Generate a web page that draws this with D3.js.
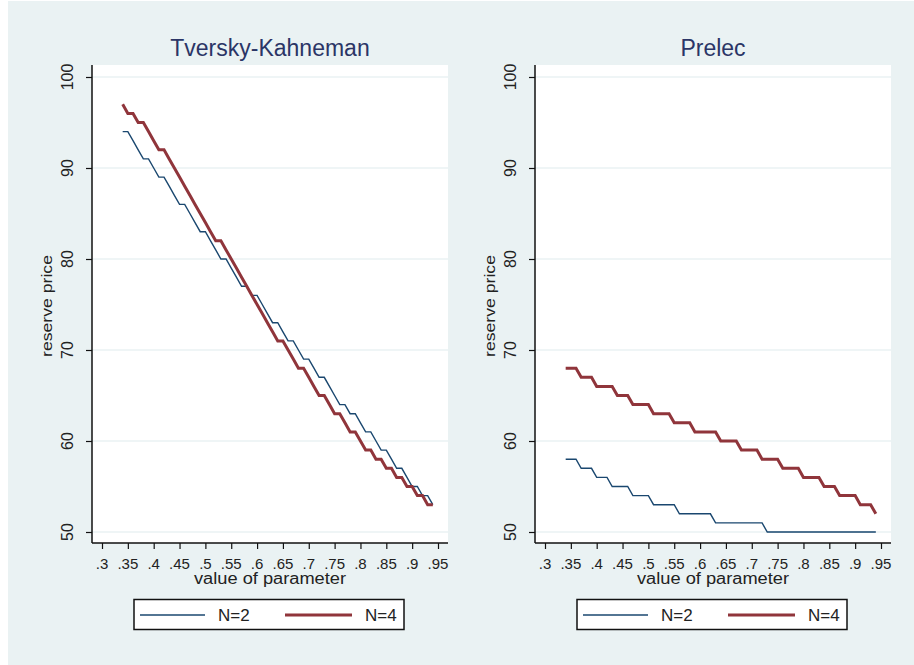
<!DOCTYPE html>
<html>
<head>
<meta charset="utf-8">
<script src="https://cdn.jsdelivr.net/npm/d3@7"></script>
<style>
  body { margin: 0; background: #ffffff; }
  text { font-family: "Liberation Sans", Arial, sans-serif; }
</style>
</head>
<body>
<script>
// value of the weighting parameter, every .01
const params = [0.34,0.35,0.36,0.37,0.38,0.39,0.40,0.41,0.42,0.43,
                0.44,0.45,0.46,0.47,0.48,0.49,0.50,0.51,0.52,0.53,
                0.54,0.55,0.56,0.57,0.58,0.59,0.60,0.61,0.62,0.63,
                0.64,0.65,0.66,0.67,0.68,0.69,0.70,0.71,0.72,0.73,
                0.74,0.75,0.76,0.77,0.78,0.79,0.80,0.81,0.82,0.83,
                0.84,0.85,0.86,0.87,0.88,0.89,0.90,0.91,0.92,0.93,
                0.94];

// Tversky-Kahneman
const tkN2 = [94,94,93,92,91,91,90,89,89,88, 87,86,86,85,84,83,83,82,81,80,
              80,79,78,77,77,76,76,75,74,73, 73,72,71,71,70,69,69,68,67,67,
              66,65,64,64,63,63,62,61,61,60, 59,59,58,57,57,56,55,55,54,54, 53];
const tkN4 = [97,96,96,95,95,94,93,92,92,91, 90,89,88,87,86,85,84,83,82,82,
              81,80,79,78,77,76,75,74,73,72, 71,71,70,69,68,68,67,66,65,65,
              64,63,63,62,61,61,60,59,59,58, 58,57,57,56,56,55,55,54,54,53, 53];

// Prelec
const prN2 = [58,58,58,57,57,57,56,56,56,55, 55,55,55,54,54,54,54,53,53,53,
              53,53,52,52,52,52,52,52,52,51, 51,51,51,51,51,51,51,51,51,50,
              50,50,50,50,50,50,50,50,50,50, 50,50,50,50,50,50,50,50,50,50, 50];
const prN4 = [68,68,68,67,67,67,66,66,66,66, 65,65,65,64,64,64,64,63,63,63,
              63,62,62,62,62,61,61,61,61,61, 60,60,60,60,59,59,59,59,58,58,
              58,58,57,57,57,57,56,56,56,56, 55,55,55,54,54,54,54,53,53,53, 52];

const xTicks = [0.3,0.35,0.4,0.45,0.5,0.55,0.6,0.65,0.7,0.75,0.8,0.85,0.9,0.95];
const yTicks = [50,60,70,80,90,100];
const seriesNames = ["N=2", "N=4"];
const panelTitles = ["Tversky-Kahneman", "Prelec"];

const w = 914, h = 665;
const navy = "#1a476f", maroon = "#90353b";
const bg = "#eaf2f3";

const svg = d3.select("body").append("svg")
    .attr("width", w)
    .attr("height", h);

svg.append("rect")
    .attr("x", 8).attr("y", 1)
    .attr("width", w - 8).attr("height", h - 1)
    .attr("fill", bg);

const panels = [
  { title: panelTitles[0], off: 0,   n2: tkN2, n4: tkN4 },
  { title: panelTitles[1], off: 443, n2: prN2, n4: prN4 }
];

const fmt = d => String(d).replace(/^0/, "");

panels.forEach(p => {
  const g = svg.append("g").attr("transform", "translate(" + p.off + ",0)");

  const xScale = d3.scaleLinear().domain([0.3, 0.95]).range([102, 438]);
  const yScale = d3.scaleLinear().domain([50, 100]).range([532, 77]);

  // plot region
  g.append("rect")
      .attr("x", 92).attr("y", 65)
      .attr("width", 356).attr("height", 478)
      .attr("fill", "#ffffff");

  // grid
  g.selectAll(".grid")
      .data(yTicks)
      .enter()
      .append("line")
      .attr("x1", 92).attr("x2", 448)
      .attr("y1", d => yScale(d)).attr("y2", d => yScale(d))
      .attr("stroke", bg)
      .attr("stroke-width", 1.5);

  // axes
  const yAxis = d3.axisLeft(yScale).tickValues(yTicks).tickSize(6).tickFormat("");
  const xAxis = d3.axisBottom(xScale).tickValues(xTicks).tickSize(6).tickFormat("");

  const ya = g.append("g").attr("transform", "translate(92,0)").call(yAxis);
  ya.select(".domain").attr("d", "M0,65V543");
  const xa = g.append("g").attr("transform", "translate(0,543)").call(xAxis);
  xa.select(".domain").attr("d", "M92,0H448");
  g.selectAll(".domain").attr("stroke", "#111").attr("stroke-width", 1.5);
  g.selectAll(".tick line").attr("stroke", "#111").attr("stroke-width", 1.2);

  // tick labels
  g.selectAll(".ylab")
      .data(yTicks)
      .enter()
      .append("text")
      .attr("transform", d => "translate(73," + yScale(d) + ") rotate(-90)")
      .attr("text-anchor", "middle")
      .attr("font-size", 16)
      .attr("fill", "#222")
      .text(d => d);

  g.selectAll(".xlab")
      .data(xTicks)
      .enter()
      .append("text")
      .attr("x", d => xScale(d))
      .attr("y", 569)
      .attr("text-anchor", "middle")
      .attr("font-size", 15)
      .attr("fill", "#222")
      .text(fmt);

  // axis titles
  g.append("text")
      .attr("x", 270).attr("y", 584)
      .attr("text-anchor", "middle")
      .attr("font-size", 16)
      .attr("textLength", 152)
      .attr("lengthAdjust", "spacingAndGlyphs")
      .attr("fill", "#222")
      .text("value of parameter");

  g.append("text")
      .attr("transform", "translate(52,306) rotate(-90)")
      .attr("text-anchor", "middle")
      .attr("font-size", 15)
      .attr("textLength", 102)
      .attr("lengthAdjust", "spacingAndGlyphs")
      .attr("fill", "#222")
      .text("reserve price");

  // title
  g.append("text")
      .attr("x", 270).attr("y", 56)
      .attr("text-anchor", "middle")
      .attr("font-size", 23)
      .attr("fill", "#2b3566")
      .text(p.title);

  // lines
  const line = d3.line()
      .x((d, i) => xScale(params[i]))
      .y(d => yScale(d));

  g.append("path")
      .attr("d", line(p.n2))
      .attr("fill", "none")
      .attr("stroke", navy)
      .attr("stroke-width", 1.4);

  g.append("path")
      .attr("d", line(p.n4))
      .attr("fill", "none")
      .attr("stroke", maroon)
      .attr("stroke-width", 3);

  // legend
  const lg = g.append("g");
  lg.append("rect")
      .attr("x", 134).attr("y", 599.5)
      .attr("width", 270).attr("height", 30)
      .attr("fill", "#ffffff")
      .attr("stroke", "#111")
      .attr("stroke-width", 1.5);
  lg.append("line")
      .attr("x1", 140).attr("x2", 205).attr("y1", 615).attr("y2", 615)
      .attr("stroke", navy).attr("stroke-width", 1.4);
  lg.append("text")
      .attr("x", 218).attr("y", 621)
      .attr("font-size", 17)
      .attr("fill", "#222")
      .text(seriesNames[0]);
  lg.append("line")
      .attr("x1", 285).attr("x2", 352).attr("y1", 615).attr("y2", 615)
      .attr("stroke", maroon).attr("stroke-width", 3);
  lg.append("text")
      .attr("x", 365).attr("y", 621)
      .attr("font-size", 17)
      .attr("fill", "#222")
      .text(seriesNames[1]);
});
</script>
</body>
</html>
